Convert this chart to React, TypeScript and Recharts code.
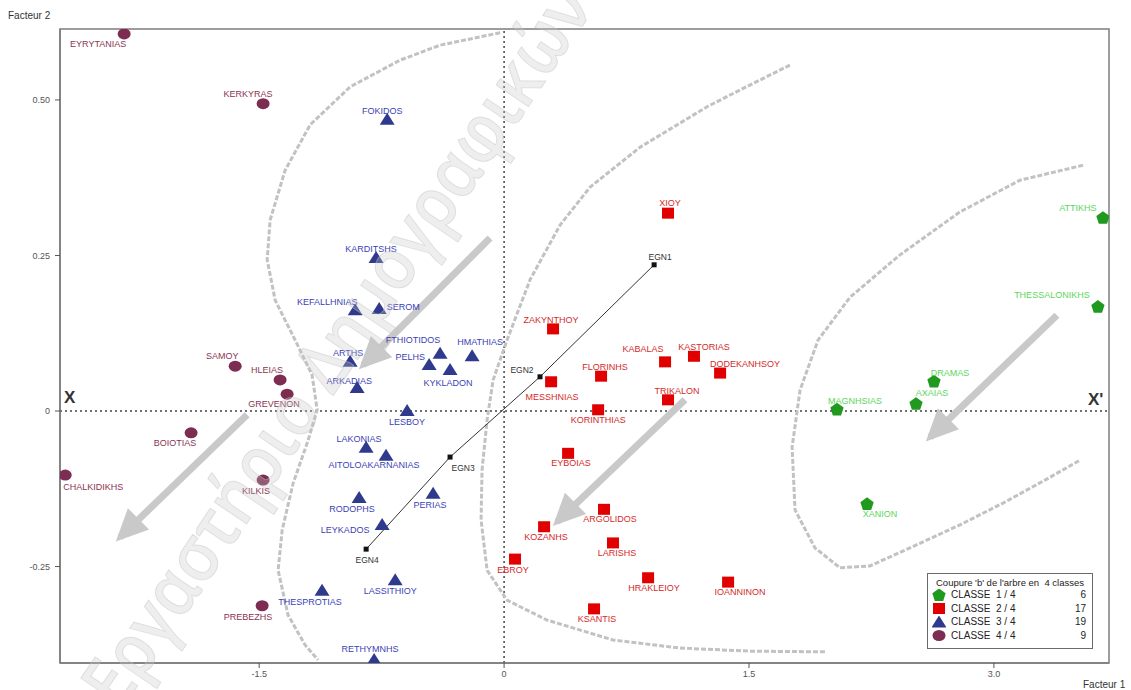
import React from 'react';
import { ScatterChart, Scatter, XAxis, YAxis, ReferenceLine, ReferenceArea } from 'recharts';

// ---------- axes ----------
const X_DOMAIN = [-2.72, 3.705];
const Y_DOMAIN = [-0.405, 0.614];
const X_TICKS = [-1.5, 0, 1.5, 3.0];
const X_TICK_LABELS = ['-1.5', '0', '1.5', '3.0'];
const Y_TICKS = [-0.25, 0, 0.25, 0.5];
const Y_TICK_LABELS = ['-0.25', '0', '0.25', '0.50'];

// ---------- classes ----------
const classe1 = [
  { name: 'ATTIKHS', x: 3.668, y: 0.31 },
  { name: 'THESSALONIKHS', x: 3.637, y: 0.167 },
  { name: 'DRAMAS', x: 2.633, y: 0.047 },
  { name: 'AXAIAS', x: 2.523, y: 0.011 },
  { name: 'MAGNHSIAS', x: 2.039, y: 0.002 },
  { name: 'XANION', x: 2.223, y: -0.15 },
];

const classe2 = [
  { name: 'XIOY', x: 1.004, y: 0.318 },
  { name: 'ZAKYNTHOY', x: 0.3, y: 0.132 },
  { name: 'KABALAS', x: 0.986, y: 0.079 },
  { name: 'KASTORIAS', x: 1.163, y: 0.088 },
  { name: 'DODEKANHSOY', x: 1.323, y: 0.061 },
  { name: 'FLORINHS', x: 0.594, y: 0.056 },
  { name: 'MESSHNIAS', x: 0.288, y: 0.047 },
  { name: 'TRIKALON', x: 1.004, y: 0.018 },
  { name: 'KORINTHIAS', x: 0.576, y: 0.002 },
  { name: 'EYBOIAS', x: 0.392, y: -0.068 },
  { name: 'ARGOLIDOS', x: 0.612, y: -0.158 },
  { name: 'KOZANHS', x: 0.245, y: -0.186 },
  { name: 'LARISHS', x: 0.667, y: -0.212 },
  { name: 'EBROY', x: 0.067, y: -0.238 },
  { name: 'HRAKLEIOY', x: 0.882, y: -0.268 },
  { name: 'IOANNINON', x: 1.372, y: -0.275 },
  { name: 'KSANTIS', x: 0.551, y: -0.318 },
];

const classe3 = [
  { name: 'FOKIDOS', x: -0.716, y: 0.468 },
  { name: 'KARDITSHS', x: -0.784, y: 0.246 },
  { name: 'KEFALLHNIAS', x: -0.912, y: 0.162 },
  { name: 'SEROM', x: -0.765, y: 0.164 },
  { name: 'ARTHS', x: -0.943, y: 0.079 },
  { name: 'ARKADIAS', x: -0.9, y: 0.037 },
  { name: 'FTHIOTIDOS', x: -0.392, y: 0.092 },
  { name: 'HMATHIAS', x: -0.196, y: 0.088 },
  { name: 'PELHS', x: -0.459, y: 0.074 },
  { name: 'KYKLADON', x: -0.331, y: 0.066 },
  { name: 'LESBOY', x: -0.594, y: 0.0 },
  { name: 'LAKONIAS', x: -0.845, y: -0.059 },
  { name: 'AITOLOAKARNANIAS', x: -0.723, y: -0.072 },
  { name: 'RODOPHS', x: -0.888, y: -0.14 },
  { name: 'PERIAS', x: -0.435, y: -0.133 },
  { name: 'LEYKADOS', x: -0.747, y: -0.183 },
  { name: 'LASSITHIOY', x: -0.667, y: -0.272 },
  { name: 'THESPROTIAS', x: -1.115, y: -0.289 },
  { name: 'RETHYMNHS', x: -0.796, y: -0.4 },
];

const classe4 = [
  { name: 'EYRYTANIAS', x: -2.327, y: 0.606 },
  { name: 'KERKYRAS', x: -1.476, y: 0.494 },
  { name: 'SAMOY', x: -1.647, y: 0.072 },
  { name: 'HLEIAS', x: -1.372, y: 0.05 },
  { name: 'GREVENON', x: -1.329, y: 0.027 },
  { name: 'BOIOTIAS', x: -1.917, y: -0.035 },
  { name: 'CHALKIDIKHS', x: -2.688, y: -0.103 },
  { name: 'KILKIS', x: -1.476, y: -0.111 },
  { name: 'PREBEZHS', x: -1.482, y: -0.313 },
];

const egnPath = [
  { name: 'EGN1', x: 0.919, y: 0.235 },
  { name: 'EGN2', x: 0.22, y: 0.055 },
  { name: 'EGN3', x: -0.331, y: -0.074 },
  { name: 'EGN4', x: -0.845, y: -0.222 },
];

// ---------- cluster boundaries (dashed grey curves) ----------
const boundaryA = [
  { x: -0.024, y: 0.608 }, { x: -0.392, y: 0.588 }, { x: -0.637, y: 0.564 }, { x: -0.943, y: 0.521 },
  { x: -1.188, y: 0.46 }, { x: -1.341, y: 0.387 }, { x: -1.433, y: 0.307 }, { x: -1.451, y: 0.243 },
  { x: -1.402, y: 0.178 }, { x: -1.28, y: 0.114 }, { x: -1.176, y: 0.058 }, { x: -1.145, y: 0.002 },
  { x: -1.2, y: -0.047 }, { x: -1.292, y: -0.116 }, { x: -1.359, y: -0.191 }, { x: -1.384, y: -0.256 },
  { x: -1.323, y: -0.328 }, { x: -1.219, y: -0.376 }, { x: -1.139, y: -0.4 },
];
const boundaryB = [
  { x: 1.751, y: 0.556 }, { x: 1.445, y: 0.516 }, { x: 1.243, y: 0.489 }, { x: 0.833, y: 0.424 },
  { x: 0.527, y: 0.36 }, { x: 0.343, y: 0.299 }, { x: 0.159, y: 0.211 }, { x: 0.018, y: 0.114 },
  { x: -0.067, y: 0.05 }, { x: -0.104, y: -0.014 }, { x: -0.135, y: -0.095 }, { x: -0.141, y: -0.175 },
  { x: -0.104, y: -0.256 }, { x: 0.018, y: -0.304 }, { x: 0.263, y: -0.336 }, { x: 0.667, y: -0.368 },
  { x: 1.078, y: -0.381 }, { x: 1.506, y: -0.386 }, { x: 1.966, y: -0.387 },
];
const boundaryC = [
  { x: 3.546, y: 0.395 }, { x: 3.16, y: 0.371 }, { x: 2.792, y: 0.32 }, { x: 2.425, y: 0.251 },
  { x: 2.119, y: 0.183 }, { x: 1.923, y: 0.114 }, { x: 1.813, y: 0.034 }, { x: 1.764, y: -0.058 },
  { x: 1.782, y: -0.159 }, { x: 1.904, y: -0.22 }, { x: 2.058, y: -0.252 }, { x: 2.241, y: -0.249 },
  { x: 2.486, y: -0.22 }, { x: 2.792, y: -0.183 }, { x: 3.056, y: -0.148 }, { x: 3.313, y: -0.111 },
  { x: 3.527, y: -0.079 },
];

// ---------- grey arrows (from -> to) ----------
const arrows = [
  { from: { x: -0.086, y: 0.278 }, to: { x: -0.863, y: 0.074 } },
  { from: { x: -1.574, y: -0.006 }, to: { x: -2.352, y: -0.203 } },
  { from: { x: 1.108, y: 0.018 }, to: { x: 0.325, y: -0.178 } },
  { from: { x: 3.386, y: 0.154 }, to: { x: 2.609, y: -0.042 } },
];

// ---------- legend ----------
const legendTitle = "Coupure 'b' de l'arbre en  4 classes";
const classNames = ['CLASSE  1 / 4', 'CLASSE  2 / 4', 'CLASSE  3 / 4', 'CLASSE  4 / 4'];
const classCounts = [6, 17, 19, 9];

const watermarkText = 'Εργαστήριο Δημογραφικών';

// label offsets (text centre relative to marker, px)
const LABEL_OFFSET: Record<string, [number, number]> = {
  EYRYTANIAS: [-26, 10], KERKYRAS: [-15, -10], SAMOY: [-13, -10], HLEIAS: [-13, -10],
  GREVENON: [-13, 10], BOIOTIAS: [-16, 10], CHALKIDIKHS: [28, 12], KILKIS: [-7, 11], PREBEZHS: [-14, 11],
  FOKIDOS: [-5, -9], KARDITSHS: [-5, -9], KEFALLHNIAS: [-28, -8], SEROM: [24, -2], ARTHS: [-2, -9],
  ARKADIAS: [-8, -7], FTHIOTIDOS: [-27, -14], HMATHIAS: [8, -14], PELHS: [-19, -8], KYKLADON: [-2, 13],
  LESBOY: [0, 11], LAKONIAS: [-7, -9], AITOLOAKARNANIAS: [-12, 9], RODOPHS: [-7, 11], PERIAS: [-3, 11],
  LEYKADOS: [-37, 5], LASSITHIOY: [-5, 11], THESPROTIAS: [-12, 11], RETHYMNHS: [-4, -11],
  XIOY: [2, -10], ZAKYNTHOY: [-2, -9], KABALAS: [-22, -13], KASTORIAS: [10, -9], DODEKANHSOY: [25, -9],
  FLORINHS: [4, -9], MESSHNIAS: [1, 15], TRIKALON: [9, -9], KORINTHIAS: [0, 10], EYBOIAS: [3, 10],
  ARGOLIDOS: [6, 10], KOZANHS: [2, 10], LARISHS: [4, 10], EBROY: [-2, 11], HRAKLEIOY: [6, 10],
  IOANNINON: [12, 10], KSANTIS: [3, 10],
  ATTIKHS: [-25, -10], THESSALONIKHS: [-46, -12], DRAMAS: [16, -9], AXAIAS: [16, -11], MAGNHSIAS: [18, -9],
  XANION: [13, 10],
  EGN1: [6, -8], EGN2: [-18, -7], EGN3: [13, 11], EGN4: [1, 11],
};

const FONT = "'Liberation Sans', Arial, sans-serif";
const MARKER = ['#1f9a1f', '#e00000', '#2f3a8c', '#7d2d52'];
const LABEL = ['#5cd65c', '#d42a2a', '#3b3fb5', '#8a3552'];

const symbolPath = (k: number, cx: number, cy: number) => {
  const c = MARKER[k];
  if (k === 0) {
    const pts = [0, 1, 2, 3, 4]
      .map((i) => {
        const a = -Math.PI / 2 + (i * 2 * Math.PI) / 5;
        return `${cx + 7 * Math.cos(a)},${cy + 7 * Math.sin(a)}`;
      })
      .join(' ');
    return <polygon points={pts} fill={c} />;
  }
  if (k === 1) return <rect x={cx - 6} y={cy - 5.5} width={12} height={11} fill={c} />;
  if (k === 2)
    return <polygon points={`${cx},${cy - 7} ${cx + 7.5},${cy + 5} ${cx - 7.5},${cy + 5}`} fill={c} />;
  return <ellipse cx={cx} cy={cy} rx={6.5} ry={5.5} fill={c} />;
};

const makeShape = (k: number) => (props: any) => {
  const { cx, cy, payload } = props;
  if (cx == null || cy == null) return <g />;
  const off = LABEL_OFFSET[payload.name] || [0, -10];
  return (
    <g>
      {symbolPath(k, cx, cy)}
      <text
        x={cx + off[0]}
        y={cy + off[1]}
        textAnchor="middle"
        dominantBaseline="central"
        fontSize={9}
        fontFamily={FONT}
        fill={LABEL[k]}
      >
        {payload.name}
      </text>
    </g>
  );
};

const egnShape = (props: any) => {
  const { cx, cy, payload } = props;
  if (cx == null || cy == null) return <g />;
  const off = LABEL_OFFSET[payload.name] || [0, -10];
  return (
    <g>
      <rect x={cx - 2.5} y={cy - 2.5} width={5} height={5} fill="#111" />
      <text x={cx + off[0]} y={cy + off[1]} textAnchor="middle" dominantBaseline="central" fontSize={8.5} fontFamily={FONT} fill="#333">
        {payload.name}
      </text>
    </g>
  );
};

const noShape = () => <g />;

const arrowHead = (props: any) => {
  const { cx, cy } = props;
  if (cx == null || cy == null) return <g />;
  return (
    <polygon
      points="6,0 -26,-15 -26,15"
      transform={`translate(${cx},${cy}) rotate(135)`}
      fill="#c9c9c9"
    />
  );
};

const legendSymbol = (k: number) => (
  <svg width={14} height={12} style={{ display: 'block' }}>
    {symbolPath(k, 7, 6.5)}
  </svg>
);

export default function App() {
  const curveLine = { stroke: '#c2c2c2', strokeWidth: 3, strokeDasharray: '5 2' };
  return (
    <div style={{ position: 'absolute', left: 0, top: 0, width: 1131, height: 690, background: '#fff', fontFamily: FONT }}>
      <ScatterChart width={1131} height={690} margin={{ top: 29, right: 22, left: 0, bottom: 0 }}>
        <XAxis
          type="number"
          dataKey="x"
          domain={X_DOMAIN}
          ticks={X_TICKS}
          allowDataOverflow
          height={27}
          tickSize={5}
          tickMargin={3}
          tickFormatter={(v: number) => X_TICK_LABELS[X_TICKS.indexOf(v)] ?? String(v)}
          axisLine={{ stroke: '#7d7d7d', strokeWidth: 1.5 }}
          tickLine={{ stroke: '#555' }}
          tick={{ fontSize: 9, fill: '#555', fontFamily: FONT }}
        />
        <YAxis
          type="number"
          dataKey="y"
          domain={Y_DOMAIN}
          ticks={Y_TICKS}
          allowDataOverflow
          width={60}
          tickSize={5}
          tickMargin={5}
          tickFormatter={(v: number) => Y_TICK_LABELS[Y_TICKS.indexOf(v)] ?? String(v)}
          axisLine={{ stroke: '#7d7d7d', strokeWidth: 1.5 }}
          tickLine={{ stroke: '#555' }}
          tick={{ fontSize: 9, fill: '#555', fontFamily: FONT }}
        />
        <ReferenceArea
          x1={X_DOMAIN[0]}
          x2={X_DOMAIN[1]}
          y1={Y_DOMAIN[0]}
          y2={Y_DOMAIN[1]}
          fill="none"
          fillOpacity={0}
          stroke="#7d7d7d"
          strokeWidth={1.5}
          ifOverflow="visible"
        />
        <ReferenceLine x={0} stroke="#444" strokeWidth={1.5} strokeDasharray="2 3" />
        <ReferenceLine y={0} stroke="#444" strokeWidth={1.5} strokeDasharray="2 3" />

        <Scatter data={boundaryA} line={curveLine} shape={noShape} isAnimationActive={false} legendType="none" />
        <Scatter data={boundaryB} line={curveLine} shape={noShape} isAnimationActive={false} legendType="none" />
        <Scatter data={boundaryC} line={curveLine} shape={noShape} isAnimationActive={false} legendType="none" />

        {arrows.map((a, i) => (
          <Scatter
            key={'arrow' + i}
            data={[a.from, a.to]}
            line={{ stroke: '#c9c9c9', strokeWidth: 7 }}
            shape={noShape}
            isAnimationActive={false}
            legendType="none"
          />
        ))}
        <Scatter data={arrows.map((a) => a.to)} shape={arrowHead} isAnimationActive={false} legendType="none" />

        <Scatter data={egnPath} line={{ stroke: '#333', strokeWidth: 1 }} shape={egnShape} isAnimationActive={false} legendType="none" />

        <Scatter data={classe4} shape={makeShape(3)} isAnimationActive={false} />
        <Scatter data={classe3} shape={makeShape(2)} isAnimationActive={false} />
        <Scatter data={classe2} shape={makeShape(1)} isAnimationActive={false} />
        <Scatter data={classe1} shape={makeShape(0)} isAnimationActive={false} />
      </ScatterChart>

      {/* axis titles and annotations */}
      <div style={{ position: 'absolute', left: 8, top: 10, fontSize: 10, color: '#333' }}>Facteur 2</div>
      <div style={{ position: 'absolute', left: 1083, top: 679, fontSize: 10, color: '#333' }}>Facteur 1</div>
      <div style={{ position: 'absolute', left: 64, top: 388, fontSize: 17, fontWeight: 'bold', color: '#333' }}>X</div>
      <div style={{ position: 'absolute', left: 1088, top: 390, fontSize: 17, fontWeight: 'bold', color: '#333' }}>X'</div>

      {/* legend */}
      <div
        style={{
          position: 'absolute',
          left: 927,
          top: 573,
          width: 164,
          height: 74,
          border: '1.5px solid #6a6a6a',
          background: '#fff',
          color: '#222',
          fontSize: 10,
        }}
      >
        <div style={{ fontSize: 9.5, marginTop: 3, textAlign: 'center', whiteSpace: 'pre' }}>{legendTitle}</div>
        {classNames.map((n, k) => (
          <div key={n} style={{ display: 'flex', alignItems: 'center', height: 13.5, paddingLeft: 4, paddingRight: 6 }}>
            {legendSymbol(k)}
            <span style={{ marginLeft: 5, whiteSpace: 'pre', flex: 1 }}>{n}</span>
            <span>{classCounts[k]}</span>
          </div>
        ))}
      </div>

      {/* watermark */}
      <svg width={1131} height={690} style={{ position: 'absolute', left: 0, top: 0, pointerEvents: 'none' }}>
        <text
          transform="translate(120,712) rotate(-56)"
          fontSize={72}
          fontWeight={600}
          textLength={850}
          lengthAdjust="spacingAndGlyphs"
          fontFamily="'Open Sans', 'DejaVu Sans', sans-serif"
          fill="rgba(200,200,200,0.3)"
          stroke="rgba(195,195,195,0.45)"
          strokeWidth={1}
        >
          {watermarkText}
        </text>
      </svg>
    </div>
  );
}
